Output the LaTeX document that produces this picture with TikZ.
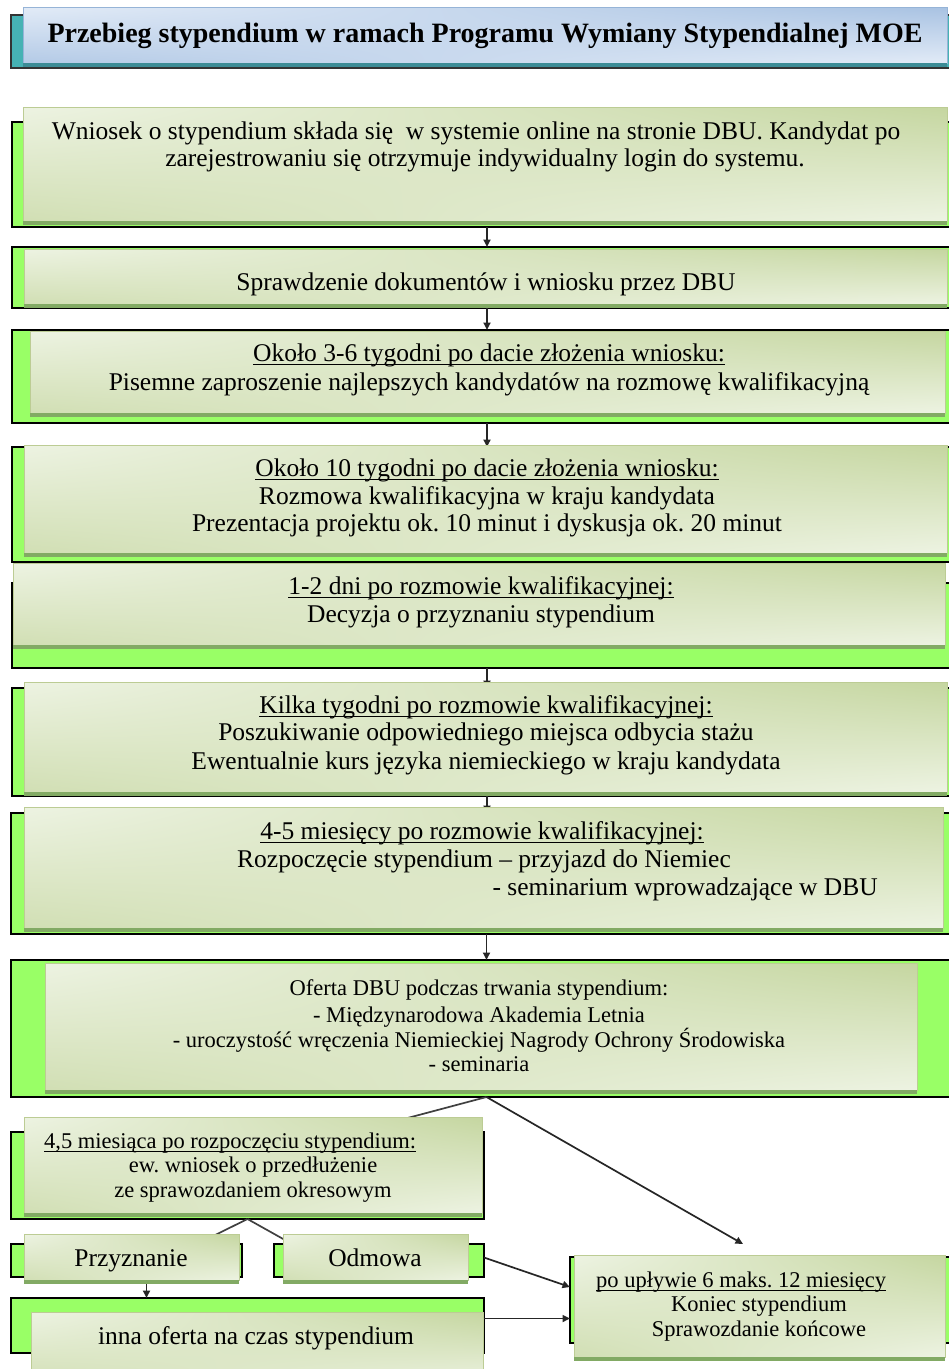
\documentclass[tikz,border=0pt]{standalone}
\usepackage{fontspec}
\setmainfont{Liberation Serif}
\usetikzlibrary{arrows.meta,shadings}
\definecolor{bgreen}{RGB}{153,255,102}
\definecolor{flight}{RGB}{237,243,226}
\definecolor{fdark}{RGB}{197,214,160}
\definecolor{fedge}{RGB}{188,204,148}
\definecolor{stripc}{RGB}{130,170,100}
\definecolor{tlight}{RGB}{226,235,247}
\definecolor{tdark}{RGB}{168,194,226}
\definecolor{tedge}{RGB}{150,180,215}
\definecolor{tealc}{RGB}{70,178,180}
\definecolor{tstrip}{RGB}{60,140,150}
\newcommand\fup{\fontsize{25.5}{27.5}\selectfont}
\newcommand\fmi{\fontsize{25.5}{27.5}\selectfont}
\newcommand\flo{\fontsize{22.5}{24.5}\selectfont}
\newcommand\fti{\fontsize{28}{30}\selectfont\bfseries}
\newsavebox\myulbox
\newcommand\myul[1]{\sbox\myulbox{#1}\rlap{\rule[-3.4pt]{\wd\myulbox}{1.1pt}}\usebox\myulbox}
\newcommand\mkbox[6]{\node[#2, minimum width={(#5)-(#3)}, minimum height={(#6)-(#4)}] (#1) at (#3,#4) {};}
\newcommand\mkstrip[2]{\fill[#2] (#1.south west) rectangle ([yshift=-4pt]#1.south east);}
\frenchspacing
\begin{document}
\begin{tikzpicture}[x=1pt,y=-1pt,
  back/.style={draw=black, line width=1.3pt, fill=bgreen, anchor=north west, inner sep=0pt, outer sep=0pt},
  front/.style={draw=fedge, line width=1pt, anchor=north west, inner sep=0pt, outer sep=0pt,
    upper left=flight, upper right=fdark, lower left=fdark!70!flight, lower right=flight},
  tback/.style={draw=black!80, line width=1.3pt, fill=tealc, anchor=north west, inner sep=0pt, outer sep=0pt},
  tfront/.style={draw=tedge, line width=1pt, anchor=north west, inner sep=0pt, outer sep=0pt,
    upper left=tlight, upper right=tdark, lower left=tdark!80!tlight, lower right=tlight},
  tup/.style={font=\fup, inner sep=0pt, text height=17.8pt, text depth=5.1pt},
  tmi/.style={font=\fmi, inner sep=0pt, text height=17.8pt, text depth=5.1pt},
  tlo/.style={font=\flo, inner sep=0pt, text height=15.7pt, text depth=4.5pt},
  ttl/.style={font=\fti, inner sep=0pt, text height=19.5pt, text depth=5.6pt},
  arr/.style={-{Triangle[length=7.5pt,width=7pt]}, line width=1.7pt, draw=black!85},
  ln/.style={line width=1.7pt, draw=black!75}]
\useasboundingbox (0,0) rectangle (949,1369);
\fill[white] (0,0) rectangle (949,1369);
% ---- back boxes
\mkbox{tb}{tback}{11}{15}{962}{68}
\mkbox{b1}{back}{12}{122}{962}{227}
\mkbox{b2}{back}{12}{247}{962}{308}
\mkbox{b3}{back}{12}{330}{962}{423}
\mkbox{b4}{back}{12}{447}{962}{562}
\mkbox{b5}{back}{12}{583}{962}{668}
\mkbox{b6}{back}{12}{688}{962}{796}
\mkbox{b7}{back}{11}{813}{962}{934}
\mkbox{b8}{back}{11}{960}{962}{1097}
\mkbox{b9}{back}{11}{1132}{484}{1219}
\mkbox{b10}{back}{11}{1244}{242}{1277}
\mkbox{b11}{back}{274}{1244}{484}{1277}
\mkbox{b12}{back}{11}{1298}{484}{1353}
\mkbox{b13}{back}{570}{1257}{962}{1343}
% ---- connectors
\coordinate (c89) at (400,1120);
\coordinate (c910) at (205,1240);
\draw[arr] (b1.south) -- (b2.north);
\draw[arr] (b2.south) -- (b3.north);
\draw[arr] (b3.south) -- (b3.south |- b4.north);
\draw[arr] (b5.south) -- (b5.south |- b6.north);
\draw[arr] (b6.south) -- (b6.south |- b7.north);
\draw[arr] (b7.south) -- (b8.north);
\draw[ln] (b8.south) -- (c89);
\draw[arr] (b8.south) -- (743,1244) coordinate (c813);
\draw[ln] (b9.south) -- (c910);
\draw[ln] (b9.south) -- (285,1240) coordinate (c911);
\draw[arr] ([xshift=20pt]b10.south) -- ([xshift=20pt]b10.south |- b12.north);
\draw[arr] ([yshift=3pt]b11.east) -- ([yshift=13pt]b13.west);
\draw[arr] ([yshift=7pt]b12.east) -- ([yshift=7pt]b12.east -| b13.west);
% ---- front boxes
\mkbox{tf}{tfront}{23}{7}{947}{63}
\mkbox{f1}{front}{23}{107}{947}{221}
\mkbox{f2}{front}{24}{249}{947}{304}
\mkbox{f3}{front}{30}{331}{945}{413}
\mkbox{f4}{front}{24}{445}{947}{553}
\mkbox{f5}{front}{13}{563}{945}{645}
\mkbox{f6}{front}{24}{682}{947}{792}
\mkbox{f7}{front}{24}{807}{943}{928}
\mkbox{f8}{front}{45}{963}{917}{1090}
\mkbox{f9}{front}{24}{1117}{482}{1213}
\mkbox{f10}{front}{24}{1234}{239}{1280}
\mkbox{f11}{front}{283}{1234}{468}{1280}
\mkbox{f12}{front}{31}{1312}{483}{1385}
\mkbox{f13}{front}{574}{1255}{945}{1357}
\mkstrip{tf}{tstrip}
\foreach \n in {f1,f2,f3,f4,f5,f6,f7,f8,f9,f10,f11,f13}{\mkstrip{\n}{stripc}}
% ---- texts
\node[ttl] (tt) at (485,36) {Przebieg stypendium w ramach Programu Wymiany Stypendialnej MOE};
\node[tup] (t1a) at (476,133) {Wniosek o stypendium składa się~ w systemie online na stronie DBU. Kandydat po};
\node[tup] (t1b) at (485,160) {zarejestrowaniu się otrzymuje indywidualny login do systemu.};
\node[tup] (t2) at (486,284) {Sprawdzenie dokumentów i wniosku przez DBU};
\node[tup] (t3a) at (489,355) {\myul{Około 3-6 tygodni po dacie złożenia wniosku:}};
\node[tup] (t3b) at (489,384) {Pisemne zaproszenie najlepszych kandydatów na rozmowę kwalifikacyjną};
\node[tup] (t4a) at (487,470) {\myul{Około 10 tygodni po dacie złożenia wniosku:}};
\node[tup] (t4b) at (487,498) {Rozmowa kwalifikacyjna w kraju kandydata};
\node[tup] (t4c) at (487,525) {Prezentacja projektu ok. 10 minut i dyskusja ok. 20 minut};
\node[tup] (t5a) at (481,588) {\myul{1-2 dni po rozmowie kwalifikacyjnej:}};
\node[tup] (t5b) at (481,616) {Decyzja o przyznaniu stypendium};
\node[tup] (t6a) at (486,707) {\myul{Kilka tygodni po rozmowie kwalifikacyjnej:}};
\node[tup] (t6b) at (486,734) {Poszukiwanie odpowiedniego miejsca odbycia stażu};
\node[tup] (t6c) at (486,763) {Ewentualnie kurs języka niemieckiego w kraju kandydata};
\node[tup] (t7a) at (482,833) {\myul{4-5 miesięcy po rozmowie kwalifikacyjnej:}};
\node[tup] (t7b) at (484,861) {Rozpoczęcie stypendium – przyjazd do Niemiec};
\node[tup, anchor=east] (t7c) at (878,889) {- seminarium wprowadzające w DBU};
\node[tlo] (t8a) at (479,990) {Oferta DBU podczas trwania stypendium:};
\node[tlo] (t8b) at (479,1017) {- Międzynarodowa Akademia Letnia};
\node[tlo] (t8c) at (479,1042) {- uroczystość wręczenia Niemieckiej Nagrody Ochrony Środowiska};
\node[tlo] (t8d) at (479,1066) {- seminaria};
\node[tlo, anchor=west] (t9a) at (44,1143) {\myul{4,5 miesiąca po rozpoczęciu stypendium:}};
\node[tlo] (t9b) at (253,1167) {ew. wniosek o przedłużenie};
\node[tlo] (t9c) at (253,1192) {ze sprawozdaniem okresowym};
\node[tmi] (t10) at (131,1260) {Przyznanie};
\node[tmi] (t11) at (375,1260) {Odmowa};
\node[tmi] (t12) at (256,1338) {inna oferta na czas stypendium};
\node[tlo, anchor=west] (t13a) at (596,1282) {\myul{po upływie 6 maks. 12 miesięcy}};
\node[tlo] (t13b) at (759,1306) {Koniec stypendium};
\node[tlo] (t13c) at (759,1331) {Sprawozdanie końcowe};
\end{tikzpicture}
\end{document}
